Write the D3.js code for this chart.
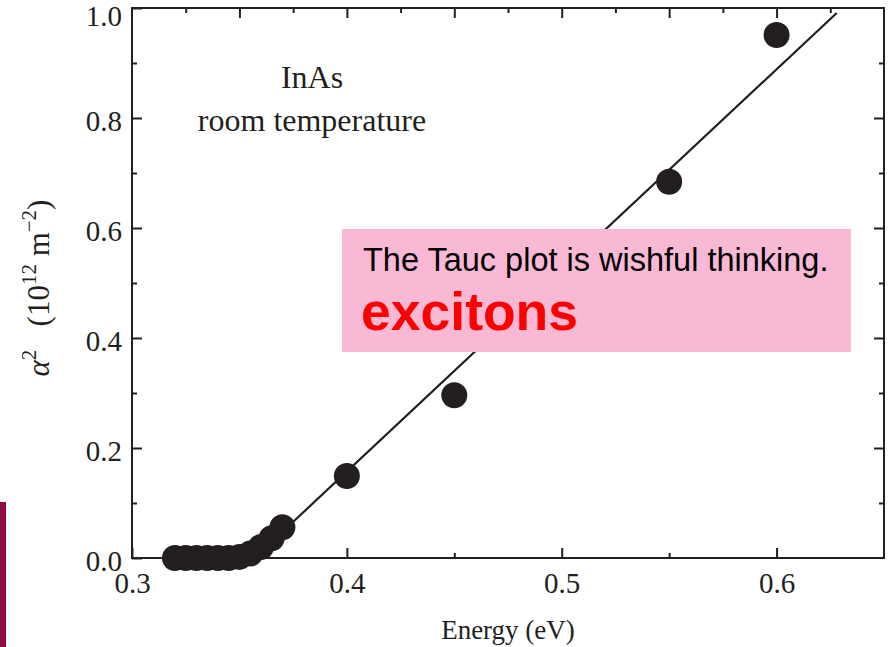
<!DOCTYPE html>
<html>
<head>
<meta charset="utf-8">
<script src="https://d3js.org/d3.v7.min.js"></script>
<style>
  body { margin: 0; background: #fff; }
  svg { display: block; }
</style>
</head>
<body>
<script>
// measured points (Energy in eV, alpha^2 in 10^12 m^-2)
var energy = [0.320, 0.325, 0.330, 0.335, 0.340, 0.345, 0.350, 0.355, 0.360, 0.365, 0.370, 0.400, 0.450, 0.550, 0.600];
var alpha2 = [0, 0, 0, 0, 0, 0, 0.002, 0.008, 0.020, 0.036, 0.056, 0.149, 0.296, 0.684, 0.951];

// straight line fit (Tauc extrapolation)
var fitEnergy = [0.357, 0.628];
var fitAlpha2 = [0, 0.991];

// ticks
var xMajor = [0.3, 0.4, 0.5, 0.6];
var xMinor = [0.35, 0.45, 0.55];
var xTopTicks = [0.325, 0.35, 0.375, 0.4, 0.425, 0.45, 0.475, 0.5, 0.525, 0.55, 0.575, 0.6, 0.625];
var yMajor = [0, 0.2, 0.4, 0.6, 0.8, 1.0];
var yMinor = [0.1, 0.3, 0.5, 0.7, 0.9];

var width = 890, height = 647;
var ink = '#231f20';
var serif = '"Liberation Serif", "Times New Roman", serif';
var sans = '"Liberation Sans", Arial, sans-serif';

var svg = d3.select('body').append('svg')
    .attr('width', width)
    .attr('height', height);

var x = d3.scaleLinear().domain([0.3, 0.65]).range([132, 884]);
var y = d3.scaleLinear().domain([0, 1]).range([558, 8]);

//__maroon bar on the left edge__//
svg.append('rect')
    .attr('x', 0).attr('y', 502)
    .attr('width', 6).attr('height', height - 502)
    .attr('fill', '#8c0c3e');

//__axes__//
function styleAxis(g) {
    g.select('.domain').remove();
    g.selectAll('line').attr('stroke', ink).attr('stroke-width', 2);
    g.selectAll('text').attr('fill', ink).style('font-family', serif).style('font-size', '29px');
}

// bottom
svg.append('g').attr('transform', 'translate(0,' + y(0) + ')')
    .call(d3.axisBottom(x).tickValues(xMajor).tickSize(-10).tickPadding(14).tickFormat(d3.format('.1f')))
    .call(styleAxis);
svg.append('g').attr('transform', 'translate(0,' + y(0) + ')')
    .call(d3.axisBottom(x).tickValues(xMinor).tickSize(-5).tickFormat(''))
    .call(styleAxis);

// top
svg.append('g').attr('transform', 'translate(0,' + y(1) + ')')
    .call(d3.axisTop(x).tickValues(xTopTicks).tickSize(0).tickFormat(''))
    .call(styleAxis)
    .selectAll('.tick line')
    .attr('y2', (d) => (Math.round(d * 1000) % 50 === 0 ? 10 : 5));

// left
var left = svg.append('g').attr('transform', 'translate(' + x(0.3) + ',0)')
    .call(d3.axisLeft(y).tickValues(yMajor).tickSize(-10).tickPadding(10).tickFormat(d3.format('.1f')))
    .call(styleAxis);
left.selectAll('.tick text')
    .attr('dy', (d) => (d === 1 ? '0.75em' : '0.36em'))
    .attr('y', (d) => (d === 1 ? -4 : 2));
svg.append('g').attr('transform', 'translate(' + x(0.3) + ',0)')
    .call(d3.axisLeft(y).tickValues(yMinor).tickSize(-5).tickFormat(''))
    .call(styleAxis);

// right
svg.append('g').attr('transform', 'translate(' + x(0.65) + ',0)')
    .call(d3.axisRight(y).tickValues(yMajor.slice(1, 5)).tickSize(-10).tickFormat(''))
    .call(styleAxis);
svg.append('g').attr('transform', 'translate(' + x(0.65) + ',0)')
    .call(d3.axisRight(y).tickValues(yMinor).tickSize(-5).tickFormat(''))
    .call(styleAxis);

// frame
svg.append('rect')
    .attr('x', x(0.3)).attr('y', y(1))
    .attr('width', x(0.65) - x(0.3)).attr('height', y(0) - y(1))
    .attr('fill', 'none').attr('stroke', ink).attr('stroke-width', 2);

//__axis titles__//
svg.append('text')
    .attr('x', 508).attr('y', 639)
    .attr('text-anchor', 'middle')
    .attr('fill', ink)
    .style('font-family', serif).style('font-size', '27px')
    .text('Energy (eV)');

var ylab = svg.append('text')
    .attr('transform', 'translate(49,288) rotate(-90)')
    .attr('text-anchor', 'middle')
    .attr('fill', ink)
    .style('font-family', serif).style('font-size', '31px');
ylab.append('tspan').style('font-style', 'italic').text('\u03b1');
ylab.append('tspan').attr('dy', -13).style('font-size', '21px').text('2');
ylab.append('tspan').attr('dy', 13).text('\u2002 (10');
ylab.append('tspan').attr('dy', -13).style('font-size', '21px').text('12');
ylab.append('tspan').attr('dy', 13).text(' m');
ylab.append('tspan').attr('dy', -13).style('font-size', '21px').text('\u22122');
ylab.append('tspan').attr('dy', 13).text(')');

//__sample note__//
svg.append('text')
    .attr('x', 312).attr('y', 88)
    .attr('text-anchor', 'middle').attr('fill', ink)
    .style('font-family', serif).style('font-size', '32px')
    .text('InAs');
svg.append('text')
    .attr('x', 312).attr('y', 131)
    .attr('text-anchor', 'middle').attr('fill', ink)
    .style('font-family', serif).style('font-size', '32px')
    .text('room temperature');

//__fit line and points__//
var line = d3.line()
    .x((d, i) => x(fitEnergy[i]))
    .y((d, i) => y(fitAlpha2[i]));

svg.append('path')
    .datum(fitEnergy)
    .attr('d', line)
    .attr('fill', 'none')
    .attr('stroke', ink)
    .attr('stroke-width', 2.2);

svg.append('g').selectAll('circle')
    .data(energy)
    .enter().append('circle')
    .attr('cx', (d) => x(d))
    .attr('cy', (d, i) => y(alpha2[i]))
    .attr('r', 13)
    .attr('fill', ink);

//__pink callout__//
svg.append('rect')
    .attr('x', 342).attr('y', 229)
    .attr('width', 509).attr('height', 123)
    .attr('fill', '#f9b9d5');
svg.append('text')
    .attr('x', 363).attr('y', 271)
    .attr('fill', '#000')
    .style('font-family', sans).style('font-size', '32.5px')
    .text('The Tauc plot is wishful thinking.');
svg.append('text')
    .attr('x', 361).attr('y', 330)
    .attr('fill', '#ff0000')
    .style('font-family', sans).style('font-size', '53.5px').style('font-weight', 'bold')
    .text('excitons');
</script>
</body>
</html>
